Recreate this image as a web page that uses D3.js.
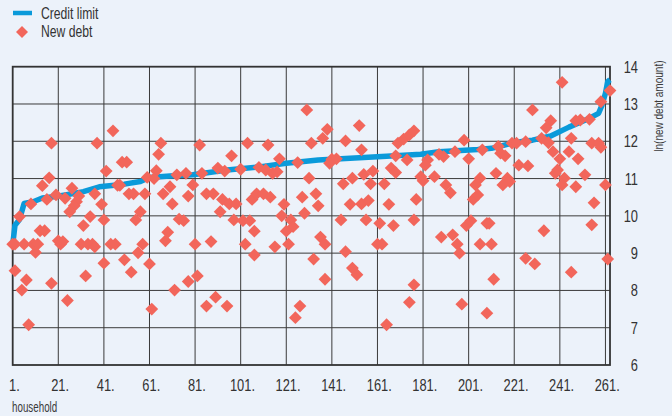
<!DOCTYPE html>
<html><head><meta charset="utf-8">
<script src="https://cdn.jsdelivr.net/npm/d3@7"></script>
<style>
html,body{margin:0;padding:0;background:#ECF2FA;}
svg{display:block;font-family:"Liberation Sans",Arial,sans-serif;}
</style></head>
<body><svg id="c" width="672" height="416"></svg>
<script>
// ---- data ----
const xTicks = [1,21,41,61,81,101,121,141,161,181,201,221,241,261];
const yTicks = [6,7,8,9,10,11,12,13,14];
const limitHousehold = [1,2,4,6,10,14,20,24,32,39,50,57,61,70,80,95,110,121,135,153,165,180,188,205,211,215,220,225,229,237,245,254,258,259.5,261,262,263];
const limitValue     = [9.22,9.75,9.9,10.33,10.38,10.48,10.52,10.56,10.65,10.78,10.85,10.92,11.03,11.07,11.1,11.23,11.32,11.41,11.5,11.56,11.6,11.65,11.72,11.78,11.81,11.87,11.95,12.0,12.03,12.14,12.38,12.62,12.75,12.97,13.29,13.6,13.65];
const debtHousehold = [
18,38,45,66,65,49,51,42,64,17,14,27,60,63,47,48,9,4,16,20,24,30,29,28,26,37,40,52,54,59,67,35,32,41,57,55,13,15,69,68,1,2,6,10,12,11,21,22,23,31,34,36,37,44,46,58,56,50,41,53,61,2,7,5,18,33,25,62,8,
130,139,137,132,83,104,113,97,118,126,73,77,84,91,94,101,109,112,115,117,131,70,80,78,71,86,89,93,96,99,92,106,108,111,114,120,128,134,135,129,74,76,98,102,105,107,119,123,124,121,81,88,103,107,116,122,136,138,133,138,72,78,82,86,90,95,127,125,
153,147,154,170,172.5,175,177,169,174,199,195,188,190,201,207,141,143,140,183,182,159,155,150,146,158,164,167,169,180,181,186,191,193,206,204,149,154,157,166,178,203,205,145,156,162,168,177,200,202,209,189,194,196,197,206,161,163,147,150,152,177,175,198,209,165,
242,229,237,235,248,250,254,259,263,233,236,246,255,258,259,220,222,226,214,215,217,238,241,245,249,223,227,240,239,213,218,219,216,243,242,252,248,261,256,210,234,255,211,226,230,246,262,212];
const debtValue = [
11.95,11.95,12.28,11.95,11.65,11.44,11.44,11.2,11.21,11.02,10.81,10.74,11.03,11.0,10.82,10.82,10.32,9.98,10.44,10.56,10.47,10.53,10.38,10.27,10.11,10.59,10.31,10.59,10.59,10.59,10.59,9.98,9.74,9.89,10.11,9.89,9.6,9.6,9.56,9.33,9.24,9.24,9.24,9.24,9.24,9.02,9.33,9.24,9.31,9.24,9.24,9.24,9.17,9.24,9.24,9.24,9.01,8.82,8.73,8.49,8.71,8.53,8.28,8.01,8.19,8.39,7.73,7.5,7.08,
12.84,12.32,12.08,11.95,11.9,11.95,11.9,11.61,11.53,11.43,11.1,11.14,11.14,11.28,11.2,11.25,11.3,11.23,11.14,11.18,11.01,10.78,10.83,10.53,10.32,10.59,10.59,10.44,10.32,10.32,10.11,10.44,10.59,10.59,10.5,10.31,10.5,10.59,10.27,10.07,9.91,9.87,9.89,9.87,9.87,9.59,10.0,9.89,9.71,9.59,9.24,9.31,9.24,8.95,9.17,9.24,9.43,9.24,8.84,8.3,8.01,8.24,8.39,7.58,7.82,7.58,7.58,7.27,
12.42,12.01,11.77,11.95,12.06,12.17,12.28,11.61,11.5,12.03,11.72,11.65,11.59,11.53,11.77,11.52,11.53,11.41,11.5,11.36,11.2,11.11,11.01,10.86,10.86,10.86,11.28,11.16,11.05,10.94,11.05,10.83,10.62,11.01,10.83,10.31,10.32,10.41,10.31,10.44,10.44,10.56,9.89,9.89,9.8,9.74,9.89,9.74,9.87,9.8,9.43,9.49,9.24,9.0,9.24,9.24,9.24,9.04,8.6,8.42,8.15,7.68,7.63,7.39,7.08,
13.58,12.84,12.55,12.36,12.55,12.57,12.59,13.06,13.36,12.08,11.96,12.08,11.95,11.95,11.84,11.95,11.95,11.99,11.86,11.68,11.61,11.72,11.53,11.72,11.53,11.36,11.34,11.23,11.14,11.14,11.01,10.92,10.83,11.01,10.83,11.1,10.78,10.83,10.35,9.8,9.6,9.76,9.24,8.86,8.71,8.49,8.84,8.3];
const legendLabels = ["Credit limit","New debt"];
const xTitle = "household";
const yTitle = "ln(new debt amount)";

// ---- drawing ----
const blue = "#0A9ADA", red = "#F2665B", ink = "#333";
const L = 12.7, R = 610, T = 66.7, B = 365;
const svg = d3.select("#c");
const x = d3.scaleLinear().domain([1,263]).range([L,R]);
const y = d3.scaleLinear().domain([6,14]).range([B,T]);

// condensed text helper: horizontal compression of a regular sans face
function ctext(g, tx, ty, str, size, sx, anchor, rot, fill) {
  return g.append("text")
    .attr("transform", `translate(${tx},${ty})${rot?` rotate(${rot})`:""} scale(${sx},1)`)
    .attr("font-size", size).attr("text-anchor", anchor||"start")
    .attr("fill", fill||ink).text(str);
}

const grid = svg.append("g").attr("stroke","#3a3a3a").attr("stroke-width",1);
grid.selectAll("line.h").data(yTicks.filter(v=>v>6&&v<14)).join("line")
  .attr("x1",L).attr("x2",R).attr("y1",d=>y(d)).attr("y2",d=>y(d));
grid.selectAll("line.v").data(xTicks.filter(v=>v>1)).join("line")
  .attr("x1",d=>x(d)).attr("x2",d=>x(d)).attr("y1",T).attr("y2",B);
svg.append("rect").attr("x",L).attr("y",T).attr("width",R-L).attr("height",B-T)
  .attr("fill","none").attr("stroke",ink).attr("stroke-width",1.8);

// x tick labels: number centred on gridline, followed by "."
const xl = svg.append("g");
const sxT = 0.78;
xTicks.forEach(t=>{
  const tx = xl.append("text").attr("font-size",16.5).attr("fill",ink);
  const num = tx.append("tspan").text(String(t));
  tx.append("tspan").text(".");
  const w = num.node().getComputedTextLength()*sxT;
  tx.attr("transform",`translate(${x(t)-w/2},391) scale(${sxT},1)`);
});
const yl = svg.append("g");
yTicks.forEach(v=>ctext(yl, 638, y(v)+6, String(v), 16.5, sxT, "end"));
ctext(svg, 662.5, 151.7, yTitle, 13, 0.77, "start", -90, "#3a3a3a");
ctext(svg, 12, 411.7, xTitle, 14, 0.7, "start", 0, "#3a3a3a");

// credit limit line
const pts = limitHousehold.map((h,i)=>[h,limitValue[i]]);
svg.append("path").datum(pts).attr("fill","none").attr("stroke",blue).attr("stroke-width",5.5)
  .attr("stroke-linejoin","round")
  .attr("d", d3.line().x(d=>x(d[0])).y(d=>y(d[1])));

// diamonds
const dia = s => `M0,${-s}L${s},0L0,${s}L${-s},0Z`;
svg.append("g").attr("fill",red).selectAll("path").data(debtHousehold.map((h,i)=>[h,debtValue[i]])).join("path")
  .attr("d",dia(6.4)).attr("transform",d=>`translate(${x(d[0])},${y(d[1])})`);

// legend
svg.append("line").attr("x1",13).attr("x2",32).attr("y1",13).attr("y2",13).attr("stroke",blue).attr("stroke-width",4.5);
svg.append("path").attr("d",dia(6)).attr("fill",red).attr("transform","translate(22,32)");
const lg = svg.append("g");
legendLabels.forEach((s,i)=>ctext(lg, 41, 18.5+i*18.2, s, 16, 0.76, "start"));
</script></body></html>
